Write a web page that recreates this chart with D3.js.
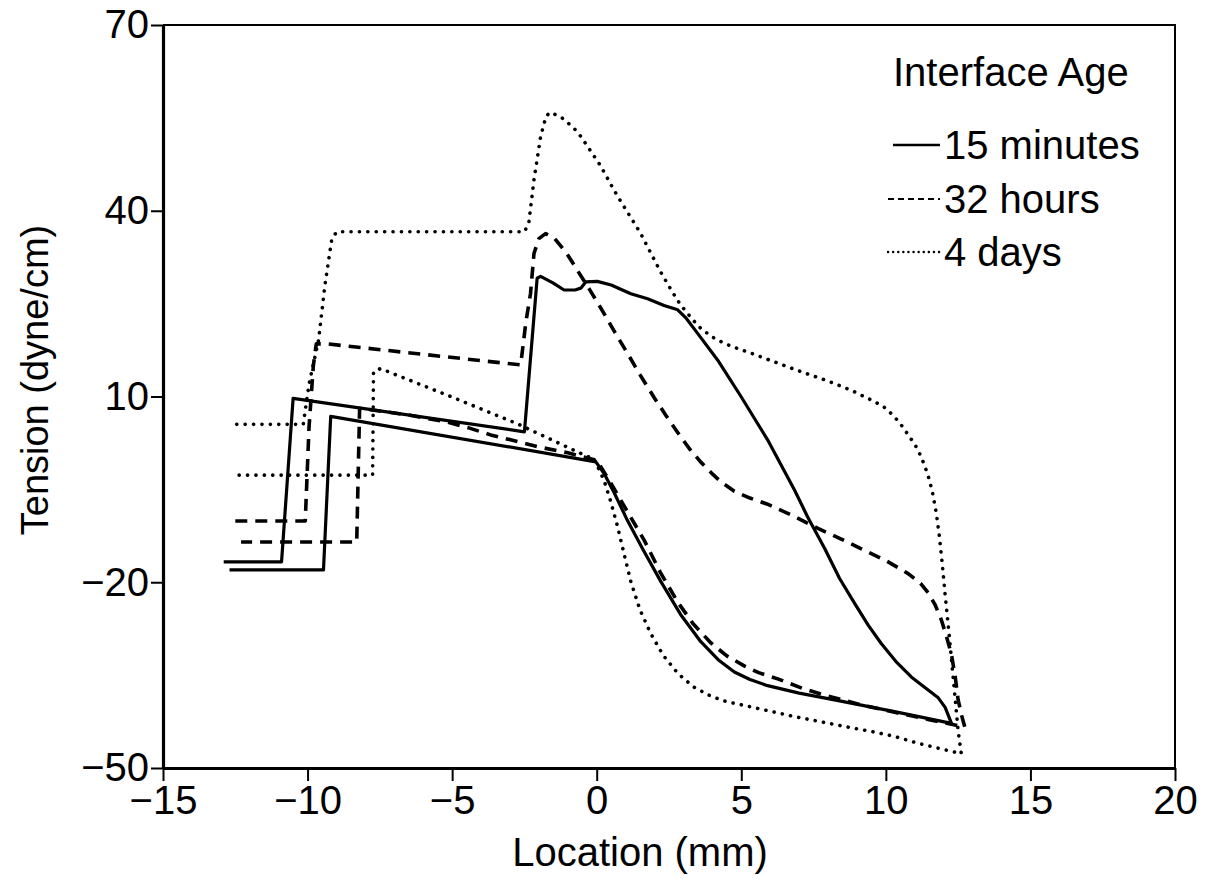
<!DOCTYPE html>
<html>
<head>
<meta charset="utf-8">
<script src="https://cdn.jsdelivr.net/npm/d3@7"></script>
<style>
  body { margin: 0; background: #fff; }
  svg { display: block; font-family: "Liberation Sans", Arial, Helvetica, sans-serif; }
  .axis path, .axis line { stroke: #000; }
  .axis text { fill: #000; }
</style>
</head>
<body>
<svg id="chart" width="1208" height="894"></svg>
<script>
// tension loops, [location mm, tension dyne/cm]
var min15 = [
    [-12.9, -16.7], [-10.9, -16.7], [-10.5, 9.7], [-2.5, 4.3], [-2.06, 29.1], [-1.94, 29.4],
    [-1.5, 28.3], [-1.13, 27.2], [-0.75, 27.2], [-0.55, 27.5], [-0.38, 28.5], [0.02, 28.6],
    [0.5, 28.0], [1.18, 26.6], [1.76, 25.8], [2.33, 24.7], [2.8, 24.0], [3.1, 22.6],
    [3.49, 20.2], [4.18, 15.9], [4.99, 10.0], [5.91, 3.0], [6.84, -5.1], [7.3, -9.5],
    [7.88, -14.5], [8.4, -19.4], [8.92, -23.4], [9.4, -27.0], [9.84, -29.9], [10.35, -32.8],
    [10.88, -35.3], [11.35, -37.0], [11.8, -38.6], [12.05, -40.2], [12.27, -42.8],
    [10.3, -40.9], [8.0, -38.8], [7.0, -37.9], [5.91, -36.7], [5.3, -35.7], [4.76, -34.5],
    [4.2, -32.5], [3.6, -29.6], [2.9, -25.2], [2.22, -19.9], [1.6, -14.7], [1.06, -10],
    [0.6, -5.5], [0.25, -2.4], [-0.03, -0.55], [-9.2, 6.8], [-9.45, -18], [-12.7, -18]
];
var hours32 = [
    [-12.5, -10.1], [-10.08, -10.1], [-9.95, 5], [-9.8, 15], [-9.7, 18.5], [-9.33, 18.5],
    [-2.63, 15.1], [-2.45, 22], [-2.29, 26.6], [-2.17, 33.1], [-2.0, 35.5], [-1.77, 36.3],
    [-1.45, 35.5], [-1.05, 33.2], [-0.67, 30.4], [-0.25, 27.3], [0.14, 24.3], [0.6, 20.6],
    [1.06, 17.0], [1.5, 13.5], [1.99, 9.8], [2.4, 6.9], [2.8, 4.2], [3.2, 1.6],
    [3.6, -0.6], [4.0, -2.5], [4.3, -3.8], [4.76, -5.3], [5.3, -6.4], [5.91, -7.4],
    [6.8, -9.3], [7.65, -11.3], [8.4, -12.9], [9.15, -14.6], [10.0, -16.5], [10.77, -18.6],
    [11.2, -20.2], [11.46, -21.7], [11.7, -23.6], [11.92, -26.1], [12.1, -28.8], [12.27, -31.7],
    [12.4, -35.3], [12.5, -39], [12.62, -41.5], [12.73, -43.4], [11.5, -42.2], [10.3, -41.0],
    [9.15, -39.8], [8.0, -38.4], [7.1, -37.1], [6.26, -35.6], [5.6, -34.6], [5.1, -33.5],
    [4.5, -31.9], [3.95, -29.8], [3.35, -26.8], [2.8, -23.2], [2.2, -18.4], [1.64, -13.2],
    [1.05, -8.5], [0.49, -4.0], [0.0, -0.3], [-1.0, 0.9], [-2.05, 1.9], [-2.98, 3.0],
    [-3.67, 3.8], [-4.37, 4.85], [-5.2, 5.9], [-6.5, 7.0], [-8.2, 8.1], [-8.3, -13.5],
    [-12.3, -13.5]
];
var days4 = [
    [-12.45, 5.5], [-10.15, 5.5], [-9.95, 12], [-9.62, 19.1], [-9.4, 28], [-9.16, 35.5],
    [-8.99, 36.6], [-2.5, 36.6], [-2.35, 38], [-2.17, 45], [-1.94, 52], [-1.75, 55.3],
    [-1.6, 55.9], [-1.2, 55.0], [-0.8, 53.4], [-0.55, 52], [0.1, 47.5], [0.7, 42.5],
    [1.5, 36.5], [2.2, 30.2], [2.6, 27], [2.9, 24.8], [3.3, 22.5], [3.6, 21.0],
    [4.0, 19.6], [4.4, 18.6], [4.9, 17.7], [5.34, 17.0], [6.2, 15.5], [7.07, 14.0],
    [8.0, 12.5], [8.8, 11.0], [9.6, 9.2], [10.0, 8.1], [10.3, 6.7], [10.6, 5.0],
    [10.8, 3.6], [11.0, 2.3], [11.23, 0.2], [11.45, -2.6], [11.6, -5.2], [11.75, -9],
    [11.85, -12.5], [11.95, -17], [12.05, -22], [12.18, -28], [12.3, -34], [12.42, -40],
    [12.5, -44], [12.61, -47.7], [11.9, -46.9], [11.11, -46.0], [10.3, -44.9], [9.5, -44.1],
    [8.8, -43.5], [6.84, -41.7], [5.2, -40.0], [4.5, -39.3], [3.95, -38.4], [3.35, -36.9],
    [2.8, -34.7], [2.3, -31.8], [1.87, -28.3], [1.5, -24.5], [1.18, -19.9], [0.95, -15.5],
    [0.72, -11.0], [0.48, -6.9], [0.25, -3.5], [-0.1, 0.0], [-0.32, 0.3], [-2.75, 5.6],
    [-5.0, 9.9], [-7.48, 14.5], [-7.72, 14.0], [-7.75, -2.7], [-12.4, -2.7]
];

var xTicks = [-15, -10, -5, 0, 5, 10, 15, 20];
var yTicks = [-50, -20, 10, 40, 70];
var legendTitle = 'Interface Age';
var legendLabels = ['15 minutes', '32 hours', '4 days'];

var LEFT = 163, RIGHT = 1175, TOP = 25, BOTTOM = 768;
var FONT = 40;

var svg = d3.select('#chart');

var x = d3.scaleLinear().domain([-15, 20]).range([LEFT, RIGHT]);
var y = d3.scaleLinear().domain([-50, 70]).range([BOTTOM, TOP]);

// line styles: solid, dashed, dotted
var styles = [
    { width: 3.2, dash: null, cap: 'butt' },
    { width: 3.6, dash: '12 8', cap: 'butt' },
    { width: 3.6, dash: '0.1 8.3', cap: 'round' }
];
var legendStyles = [
    { width: 2.6, dash: null, cap: 'butt' },
    { width: 2, dash: '6 4', cap: 'butt' },
    { width: 2.4, dash: '0.1 5', cap: 'round' }
];

// frame: top and right sides
svg.append('path')
    .attr('d', 'M' + LEFT + ',' + TOP + 'H' + RIGHT + 'V' + BOTTOM)
    .attr('fill', 'none')
    .attr('stroke', '#000')
    .attr('stroke-width', 2);

var xAxis = svg.append('g')
    .attr('class', 'axis')
    .attr('transform', 'translate(0,' + BOTTOM + ')')
    .call(d3.axisBottom(x).tickValues(xTicks).tickSize(13).tickSizeOuter(0).tickPadding(5));
xAxis.select('.domain').attr('stroke-width', 3.2);
xAxis.selectAll('.tick line').attr('stroke-width', 2);
xAxis.selectAll('text').attr('font-size', FONT).attr('font-family', null);

var yAxis = svg.append('g')
    .attr('class', 'axis')
    .attr('transform', 'translate(' + LEFT + ',0)')
    .call(d3.axisLeft(y).tickValues(yTicks).tickSize(12).tickSizeOuter(0).tickPadding(2));
yAxis.select('.domain').attr('stroke-width', 3.2);
yAxis.selectAll('.tick line').attr('stroke-width', 2);
yAxis.selectAll('text').attr('font-size', FONT).attr('font-family', null);

svg.append('text')
    .attr('x', 640)
    .attr('y', 866)
    .attr('text-anchor', 'middle')
    .attr('font-size', FONT)
    .text('Location (mm)');

svg.append('text')
    .attr('transform', 'translate(48,380) rotate(-90)')
    .attr('text-anchor', 'middle')
    .attr('font-size', 38)
    .text('Tension (dyne/cm)');

var line = d3.line()
    .x(function(d) { return x(d[0]); })
    .y(function(d) { return y(d[1]); });

var allSeries = [min15, hours32, days4];

svg.append('g').selectAll('path')
    .data(allSeries)
    .enter()
    .append('path')
    .attr('d', line)
    .attr('fill', 'none')
    .attr('stroke', '#000')
    .attr('stroke-linejoin', 'round')
    .attr('stroke-width', function(d, i) { return styles[i].width; })
    .attr('stroke-dasharray', function(d, i) { return styles[i].dash; })
    .attr('stroke-linecap', function(d, i) { return styles[i].cap; });

// legend
var legend = svg.append('g').attr('font-size', FONT);

legend.append('text')
    .attr('x', 893)
    .attr('y', 86)
    .text(legendTitle);

var rows = legend.selectAll('.row')
    .data(legendLabels)
    .enter()
    .append('g')
    .attr('class', 'row')
    .attr('transform', function(d, i) { return 'translate(0,' + [145, 199, 252][i] + ')'; });

rows.append('line')
    .attr('x1', function(d, i) { return i === 0 ? 893 : 888; })
    .attr('x2', 940)
    .attr('stroke', '#000')
    .attr('stroke-width', function(d, i) { return legendStyles[i].width; })
    .attr('stroke-dasharray', function(d, i) { return legendStyles[i].dash; })
    .attr('stroke-linecap', function(d, i) { return legendStyles[i].cap; });

rows.append('text')
    .attr('x', 944)
    .attr('dy', '0.36em')
    .text(function(d) { return d; });
</script>
</body>
</html>
